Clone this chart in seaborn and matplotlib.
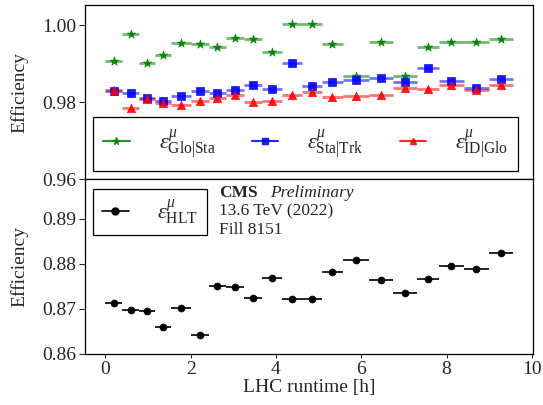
import numpy as np
import pandas as pd
import matplotlib
matplotlib.use("Agg")
import matplotlib.pyplot as plt
from matplotlib.lines import Line2D
import seaborn as sns

# ---- data ----
bin_lo = [0.00, 0.39, 0.79, 1.16, 1.55, 2.02, 2.42, 2.83, 3.25, 3.68,
          4.15, 4.61, 5.08, 5.57, 6.18, 6.75, 7.30, 7.82, 8.40, 8.99]
bin_hi = [0.39, 0.79, 1.16, 1.55, 2.02, 2.42, 2.83, 3.25, 3.68, 4.15,
          4.61, 5.08, 5.57, 6.18, 6.75, 7.30, 7.82, 8.40, 8.99, 9.55]

eff_glo_sta = [0.9908, 0.9978, 0.9901, 0.9923, 0.9954, 0.9950, 0.9942, 0.9966, 0.9964, 0.9931,
               1.0002, 1.0002, 0.9952, 0.9867, 0.9957, 0.9869, 0.9943, 0.9956, 0.9955, 0.9963]
eff_sta_trk = [0.9830, 0.9825, 0.9810, 0.9804, 0.9817, 0.9830, 0.9823, 0.9833, 0.9845, 0.9834,
               0.9903, 0.9841, 0.9853, 0.9858, 0.9863, 0.9852, 0.9888, 0.9856, 0.9838, 0.9860]
eff_id_glo = [0.9833, 0.9785, 0.9808, 0.9797, 0.9793, 0.9803, 0.9811, 0.9819, 0.9800, 0.9803,
              0.9819, 0.9826, 0.9814, 0.9816, 0.9819, 0.9837, 0.9834, 0.9846, 0.9831, 0.9846]
eff_hlt = [0.8714, 0.8697, 0.8696, 0.8660, 0.8701, 0.8642, 0.8751, 0.8748, 0.8725, 0.8768,
           0.8722, 0.8722, 0.8781, 0.8809, 0.8764, 0.8735, 0.8766, 0.8796, 0.8788, 0.8824]

labels_top = [r"$\epsilon^{\mu}_{\mathrm{Glo|Sta}}$",
              r"$\epsilon^{\mu}_{\mathrm{Sta|Trk}}$",
              r"$\epsilon^{\mu}_{\mathrm{ID|Glo}}$"]
label_hlt = r"$\epsilon^{\mu}_{\mathrm{HLT}}$"

# ---- style ----
sns.set_theme(style="ticks")
plt.rcParams["font.family"] = ["Liberation Serif", "DejaVu Serif"]
plt.rcParams["mathtext.fontset"] = "custom"
plt.rcParams["mathtext.rm"] = "Liberation Serif"
plt.rcParams["mathtext.it"] = "Liberation Serif:italic"
plt.rcParams["mathtext.bf"] = "Liberation Serif:bold"
plt.rcParams["axes.edgecolor"] = "black"

lo = np.array(bin_lo)
hi = np.array(bin_hi)
xc = (lo + hi) / 2
xe = (hi - lo) / 2

fig = plt.figure(figsize=(5.43, 4.05), dpi=100)
gs = fig.add_gridspec(2, 1, hspace=0, left=0.1565, right=0.9816, top=0.9877, bottom=0.126)
ax1 = fig.add_subplot(gs[0])
ax2 = fig.add_subplot(gs[1], sharex=ax1)

series = [
    (eff_glo_sta, "green", "*", 6.5, labels_top[0]),
    (eff_sta_trk, "blue", "s", 5.5, labels_top[1]),
    (eff_id_glo, "red", "^", 6.0, labels_top[2]),
]
handles = []
for vals, col, mk, ms, lab in series:
    ax1.errorbar(xc, vals, xerr=xe, fmt="none", ecolor=col, elinewidth=2.0, alpha=0.55, capsize=0)
    df = pd.DataFrame({"x": xc, "y": vals})
    sns.scatterplot(data=df, x="x", y="y", ax=ax1, color=col, marker=mk, s=ms**2,
                    edgecolor=col, linewidth=0.5, alpha=0.9, legend=False, zorder=3)
    handles.append(Line2D([], [], color=col, marker=mk, markersize=ms * 0.8, lw=1.5, alpha=0.85))

ax2.errorbar(xc, eff_hlt, xerr=xe, fmt="none", ecolor="black", elinewidth=1.2, capsize=0)
df2 = pd.DataFrame({"x": xc, "y": eff_hlt})
sns.scatterplot(data=df2, x="x", y="y", ax=ax2, color="black", marker="o", s=5.0**2,
                edgecolor="black", linewidth=0.5, legend=False, zorder=3)
h_hlt = Line2D([], [], color="black", marker="o", markersize=5, lw=1.2)

ax1.set_xlim(-0.4775, 10.0275)
ax1.set_ylim(0.96, 1.0052)
ax2.set_ylim(0.86, 0.8987)
ax1.set_yticks([0.96, 0.98, 1.00])
ax2.set_yticks([0.86, 0.87, 0.88, 0.89])
ax2.set_xticks([0, 2, 4, 6, 8, 10])

for ax in (ax1, ax2):
    ax.set_ylabel("Efficiency", fontsize=14)
    ax.tick_params(axis="y", direction="out", length=4, width=0.8, labelsize=14, pad=2)
    for sp in ax.spines.values():
        sp.set_visible(True)
        sp.set_linewidth(0.9)
        sp.set_color("black")
ax1.tick_params(axis="x", bottom=False, labelbottom=False)
ax2.tick_params(axis="x", direction="out", length=3, width=0.8, labelsize=14, pad=2)
ax1.set_xlabel("")
ax2.set_xlabel("LHC runtime [h]", fontsize=14, labelpad=1)
ax1.yaxis.set_label_coords(-0.127, 0.5)
ax2.yaxis.set_label_coords(-0.127, 0.5)

leg1 = ax1.legend(handles, labels_top, ncol=3, loc="lower left",
                  bbox_to_anchor=(0.018, 0.051, 0.949, 0.269), mode="expand",
                  borderaxespad=0, fontsize=16, frameon=True, fancybox=False,
                  handlelength=1.2, handletextpad=1.3, borderpad=0.45)
leg1.get_frame().set_edgecolor("black")
leg1.get_frame().set_linewidth(0.9)
leg1.get_frame().set_alpha(1)

leg2 = ax2.legend([h_hlt], [label_hlt], loc="upper left", bbox_to_anchor=(0.018, 0.948),
                  borderaxespad=0, fontsize=16, frameon=True, fancybox=False,
                  handlelength=1.2, handletextpad=1.3, borderpad=0.4)
leg2.get_frame().set_edgecolor("black")
leg2.get_frame().set_linewidth(0.9)
leg2.get_frame().set_alpha(1)

ax2.text(0.299, 0.902, "CMS", transform=ax2.transAxes, fontsize=12.5, fontweight="bold", va="baseline")
ax2.text(0.413, 0.902, "Preliminary", transform=ax2.transAxes, fontsize=12.5, style="italic", va="baseline")
ax2.text(0.299, 0.793, "13.6 TeV (2022)", transform=ax2.transAxes, fontsize=12.5, va="baseline")
ax2.text(0.299, 0.690, "Fill 8151", transform=ax2.transAxes, fontsize=12.5, va="baseline")

fig.savefig("out.png", dpi=100)
